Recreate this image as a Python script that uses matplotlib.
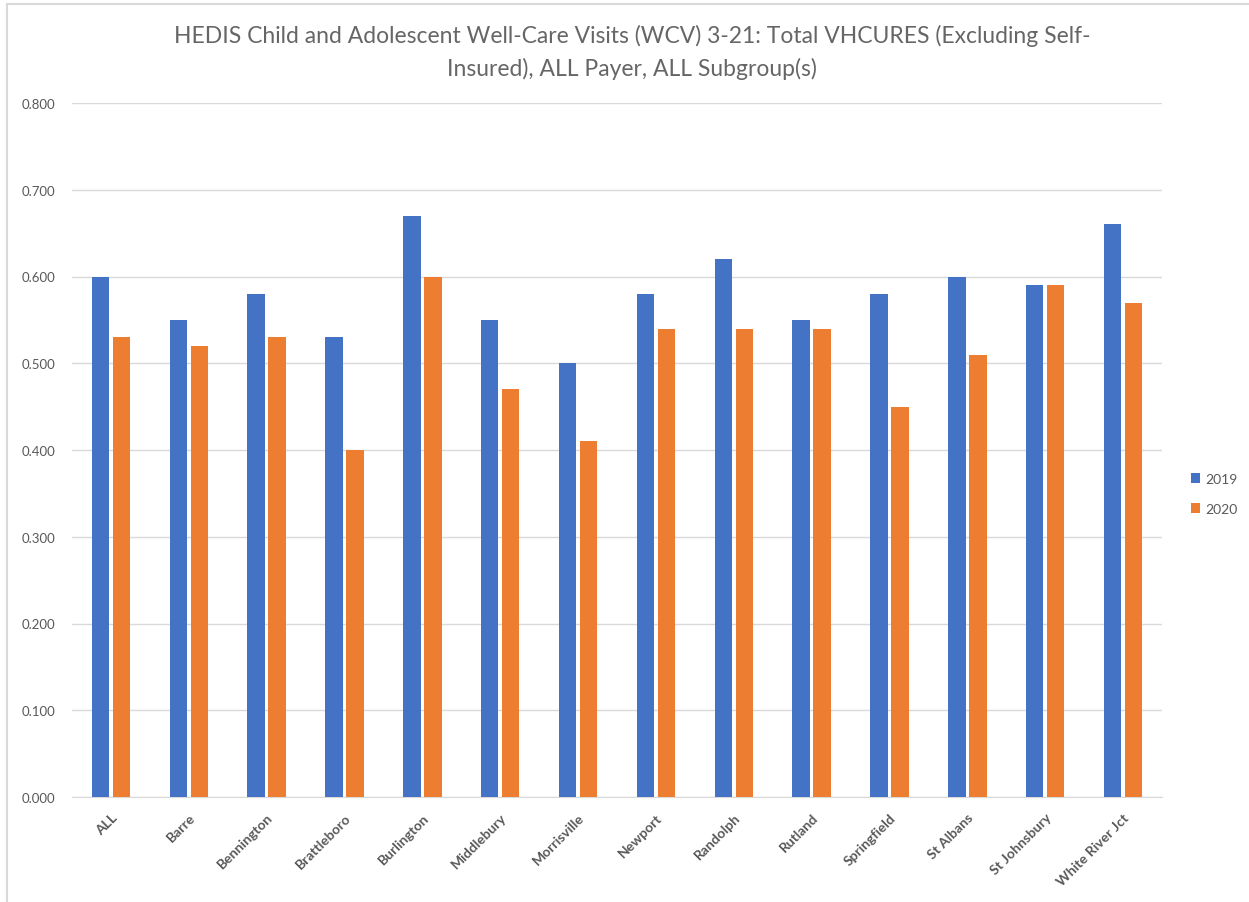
import matplotlib
matplotlib.use("Agg")
import matplotlib.pyplot as plt
import numpy as np
from matplotlib.lines import Line2D

# data
sites = ["ALL", "Barre", "Bennington", "Brattleboro", "Burlington", "Middlebury",
         "Morrisville", "Newport", "Randolph", "Rutland", "Springfield",
         "St Albans", "St Johnsbury", "White River Jct"]
rate2019 = [0.60, 0.55, 0.58, 0.53, 0.67, 0.55, 0.50, 0.58, 0.62, 0.55, 0.58, 0.60, 0.59, 0.66]
rate2020 = [0.53, 0.52, 0.53, 0.40, 0.60, 0.47, 0.41, 0.54, 0.54, 0.54, 0.45, 0.51, 0.59, 0.57]
years = ["2019", "2020"]
title = ("HEDIS Child and Adolescent Well-Care Visits (WCV) 3-21: Total VHCURES (Excluding Self-\n"
         "Insured), ALL Payer, ALL Subgroup(s)")

plt.rcParams['font.family'] = ['Lato', 'DejaVu Sans']
grey = "#595959"

fig = plt.figure(figsize=(12.49, 9.03), dpi=100)
ax = fig.add_axes([72/1249, 105/903, (1162-72)/1249, (798-104)/903])

x = np.arange(len(sites))
w = 0.225
b1 = ax.bar(x - 0.135, rate2019, w, color="#4472C4", label=years[0], zorder=3)
b2 = ax.bar(x + 0.135, rate2020, w, color="#ED7D31", label=years[1], zorder=3)

ax.set_xlim(-0.5, len(sites) - 0.5)
ax.set_ylim(0, 0.8)
ax.set_yticks(np.arange(0, 0.81, 0.1))
ax.set_yticklabels(["%.3f" % v for v in np.arange(0, 0.81, 0.1)], color=grey, fontsize=9.5)
ax.yaxis.grid(True, color="#D9D9D9", linewidth=1.0, zorder=0)
ax.set_axisbelow(True)
for s in ["top", "right", "left"]:
    ax.spines[s].set_visible(False)
ax.spines["bottom"].set_color("#D9D9D9")
ax.tick_params(axis="both", length=0)
ax.tick_params(axis="y", pad=12)

ax.set_xticks(x)
ax.set_xticklabels(sites, rotation=45, ha="right", rotation_mode="anchor",
                   fontsize=10, fontweight="bold", color=grey)
ax.tick_params(axis="x", pad=10)

fig.text(0.506, 0.972, title, ha="center", va="top", fontsize=16.5,
         color="#666666", linespacing=1.6)

leg = fig.legend(handles=[b1, b2], labels=years, loc="center left",
                 bbox_to_anchor=(1178/1249, 1 - 495/903), frameon=False,
                 fontsize=10, handlelength=0.7, handleheight=0.7,
                 handletextpad=0.4, labelspacing=1.3)
for t in leg.get_texts():
    t.set_color(grey)

# light frame of the screenshot
fig.add_artist(Line2D([7/1249, 7/1249], [0, 1 - 5/903], color="#D9D9D9", linewidth=1.5))
fig.add_artist(Line2D([7/1249, 1], [1 - 5/903, 1 - 5/903], color="#D9D9D9", linewidth=1.5))

fig.savefig("out.png", dpi=100)
